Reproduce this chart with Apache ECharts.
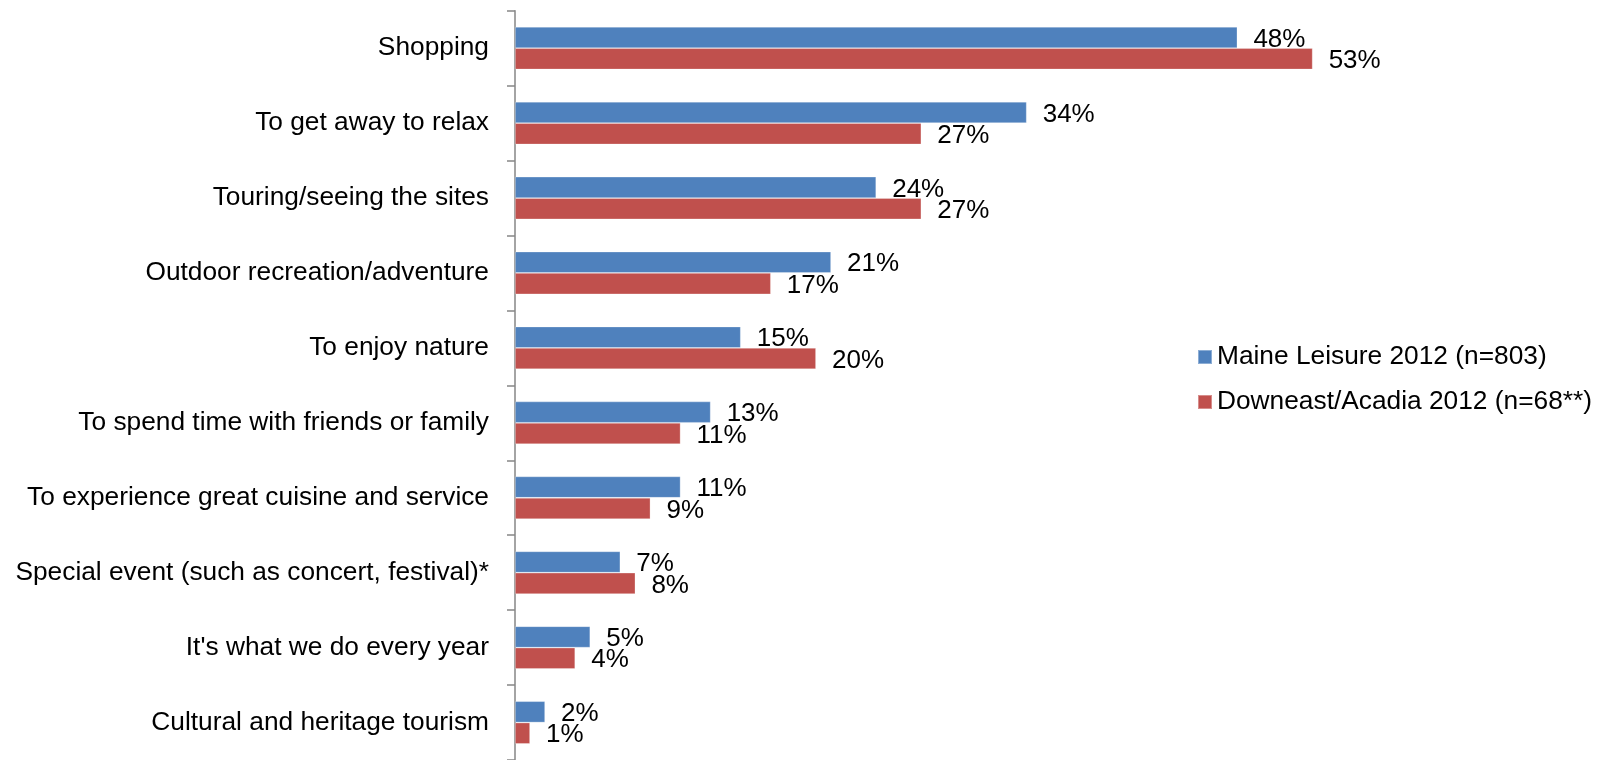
<!DOCTYPE html>
<html>
<head>
<meta charset="utf-8">
<title>Reasons for trip</title>
<script src="https://cdn.jsdelivr.net/npm/echarts@6/dist/echarts.min.js"></script>
<style>
  html, body { margin: 0; padding: 0; background: #ffffff; }
  #chart { width: 1605px; height: 760px; }
</style>
</head>
<body>
<div id="chart"></div>
<script>
// Trip motivations, top to bottom
const categories = [
  'Shopping',
  'To get away to relax',
  'Touring/seeing the sites',
  'Outdoor recreation/adventure',
  'To enjoy nature',
  'To spend time with friends or family',
  'To experience great cuisine and service',
  'Special event (such as concert, festival)*',
  "It's what we do every year",
  'Cultural and heritage tourism'
];

const seriesNames = ['Maine Leisure 2012 (n=803)', 'Downeast/Acadia 2012 (n=68**)'];

// Percent of respondents
const maineLeisure = [48, 34, 24, 21, 15, 13, 11, 7, 5, 2];
const downeastAcadia = [53, 27, 27, 17, 20, 11, 9, 8, 4, 1];

const FONT = '"Liberation Sans", Arial, sans-serif';
const BLUE = '#4F81BD';
const RED = '#C0504D';

const chart = echarts.init(document.getElementById('chart'), null, { renderer: 'canvas' });

const labelStyle = {
  show: true,
  position: 'right',
  distance: 16,
  offset: [0, 2],
  formatter: '{c}%',
  color: '#000000',
  fontFamily: FONT,
  fontSize: 26
};

chart.setOption({
  animation: false,
  backgroundColor: '#ffffff',
  textStyle: { fontFamily: FONT },
  grid: {
    left: 515,
    top: 10.7,
    width: 903,
    height: 753,
    containLabel: false
  },
  legend: {
    orient: 'vertical',
    left: 1192,
    top: 339,
    icon: 'rect',
    itemWidth: 14,
    itemHeight: 14,
    itemGap: 19,
    data: seriesNames,
    textStyle: {
      fontFamily: FONT,
      fontSize: 26.3,
      lineHeight: 26,
      color: '#000000'
    }
  },
  xAxis: {
    type: 'value',
    min: 0,
    max: 60,
    show: false,
    splitLine: { show: false }
  },
  yAxis: {
    type: 'category',
    data: categories,
    inverse: true,
    axisLine: { show: true, lineStyle: { color: '#868686', width: 1.5 } },
    axisTick: { show: true, length: 8, lineStyle: { color: '#868686', width: 1.5 } },
    axisLabel: {
      margin: 26,
      color: '#000000',
      fontFamily: FONT,
      fontSize: 26.3,
      padding: [4, 0, 0, 0]
    },
    splitLine: { show: false }
  },
  series: [
    {
      name: seriesNames[0],
      type: 'bar',
      data: maineLeisure,
      barGap: '0%',
      barCategoryGap: '43%',
      itemStyle: { color: BLUE, borderColor: 'rgba(255,255,255,0.35)', borderWidth: 0.8 },
      label: labelStyle
    },
    {
      name: seriesNames[1],
      type: 'bar',
      data: downeastAcadia,
      barGap: '0%',
      barCategoryGap: '43%',
      itemStyle: { color: RED, borderColor: 'rgba(255,255,255,0.35)', borderWidth: 0.8 },
      label: labelStyle
    }
  ]
});
</script>
</body>
</html>
